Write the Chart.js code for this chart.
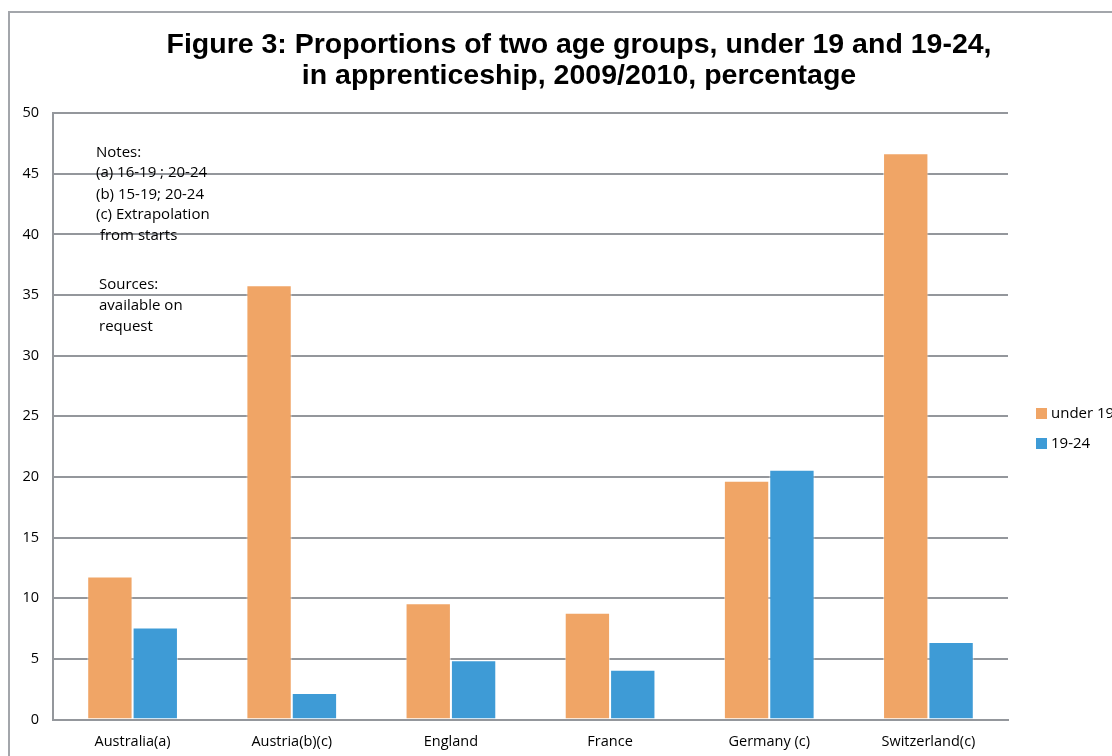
<!DOCTYPE html>
<html lang="en">
<head>
<meta charset="utf-8"/>
<title>Figure 3</title>
<script src="https://cdn.jsdelivr.net/npm/chart.js"></script>
<style>
    html, body { margin: 0; padding: 0; overflow: hidden; background: #fff; }
    #frame { position: absolute; left: 8px; top: 11px; width: 1138px; height: 760px;
             border-left: 2px solid #a3a6ab; border-top: 2px solid #a3a6ab; }
    canvas { display: block; }
  </style>
</head>
<body>
<div id="frame"><canvas id="chart" width="1138" height="760"></canvas></div>
<script>
    const categories = ['Australia(a)', 'Austria(b)(c)', 'England', 'France', 'Germany (c)', 'Switzerland(c)'];
    const under19 = [11.8, 35.8, 9.6, 8.8, 19.7, 46.7];
    const age1924 = [7.6, 2.2, 4.9, 4.1, 20.6, 6.4];
    const seriesNames = ['under 19', '19-24'];
    const titleLines = ['Figure 3: Proportions of two age groups, under 19 and 19-24,', 'in apprenticeship, 2009/2010, percentage'];
    const notes = ['Notes:', '(a) 16-19 ; 20-24', '(b) 15-19; 20-24', '(c) Extrapolation', ' from starts', '', 'Sources:', 'available on', 'request'];

    const gridGray = '#94979c';
    const textFont = '"Open Sans", sans-serif';

    // notes inside plot + legend on the right
    const extras = {
      id: 'extras',
      afterDraw(chart) {
        const ctx = chart.ctx;
        ctx.save();
        ctx.font = '15px ' + textFont;
        ctx.fillStyle = '#000';
        ctx.textBaseline = 'middle';
        ctx.textAlign = 'left';
        const ny = [140, 160, 182, 202, 223, 0, 272, 293, 314];
        notes.forEach((t, i) => {
          if (!t) return;
          const x = i >= 6 ? 89 : 86;
          ctx.fillText(t, x, ny[i]);
        });
        // legend
        chart.data.datasets.forEach((ds, i) => {
          const y = 401 + i * 30;
          ctx.fillStyle = ds.backgroundColor;
          ctx.fillRect(1026, y - 6, 11, 11);
          ctx.fillStyle = '#000';
          ctx.fillText(ds.label, 1041, y);
        });
        ctx.restore();
      }
    };

    new Chart(document.getElementById('chart').getContext('2d'), {
      type: 'bar',
      data: {
        labels: categories,
        datasets: [
          { label: seriesNames[0], data: under19, backgroundColor: '#f0a566', borderColor: 'rgba(255,255,255,0.5)', borderWidth: 1 },
          { label: seriesNames[1], data: age1924, backgroundColor: '#3e9bd6', borderColor: 'rgba(255,255,255,0.5)', borderWidth: 1 }
        ]
      },
      options: {
        responsive: false,
        animation: false,
        categoryPercentage: 0.57,
        barPercentage: 1,
        layout: { padding: { left: 0, right: 0, top: 0, bottom: 16 } },
        plugins: {
          legend: { display: false },
          tooltip: { enabled: false },
          title: {
            display: true,
            text: titleLines,
            color: '#000',
            font: { family: '"Liberation Sans", Arial, sans-serif', size: 28.5, weight: 'bold', lineHeight: 1.09 },
            padding: { top: 17, bottom: 21 }
          }
        },
        scales: {
          x: {
            grid: { display: false },
            border: { display: true, color: gridGray, width: 2 },
            ticks: { color: '#000', font: { family: textFont, size: 14.5 }, padding: 6 }
          },
          y: {
            min: 0, max: 50,
            afterFit(scale) { scale.width = 43; },
            grid: { color: gridGray, lineWidth: 2, drawTicks: false },
            border: { display: true, color: gridGray, width: 2 },
            ticks: { stepSize: 5, color: '#000', font: { family: textFont, size: 14.5 }, padding: 14 }
          },
          // empty right-hand axis that keeps room for the legend
          side: {
            position: 'right',
            afterFit(scale) { scale.width = 140; },
            grid: { display: false },
            border: { display: false },
            ticks: { display: false }
          }
        }
      },
      plugins: [extras]
    });
  </script>
</body>
</html>
